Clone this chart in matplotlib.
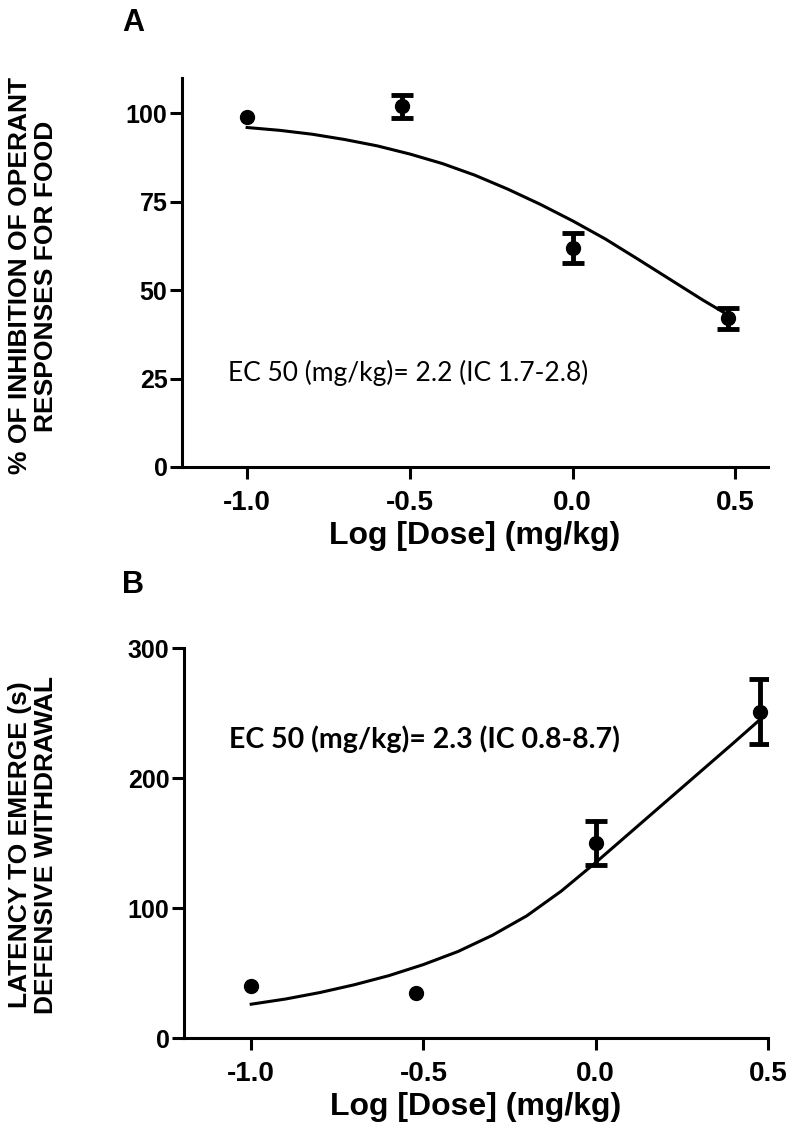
import matplotlib
matplotlib.use("Agg")
import matplotlib.pyplot as plt
import numpy as np

plt.rcParams['font.family'] = ['Liberation Sans', 'DejaVu Sans']
plt.rcParams['font.weight'] = 'bold'

# doses (log mg/kg)
log_dose = [-1.0, -0.523, 0.0, 0.477]

# panel A: % inhibition of operant responses
inhib_mean = [99, 102, 62, 42]
inhib_sem = [0, 3.3, 4.3, 3.0]
fitA_x = [-1.0, -0.9, -0.8, -0.7, -0.6, -0.5, -0.4, -0.3, -0.2, -0.1,
          0.0, 0.1, 0.2, 0.3, 0.4, 0.477]
fitA_y = [96, 95.2, 94.1, 92.6, 90.8, 88.5, 85.8, 82.5, 78.6, 74.3,
          69.6, 64.5, 58.8, 53, 47.2, 43]

# panel B: latency to emerge
lat_mean = [40, 35, 150, 251]
lat_sem = [0, 0, 17, 25]
fitB_x = [-1.0, -0.9, -0.8, -0.7, -0.6, -0.5, -0.4, -0.3, -0.2, -0.1,
          0.0, 0.1, 0.2, 0.3, 0.4, 0.477]
fitB_y = [26, 30, 35, 41, 48, 56.5, 66.5, 79, 94, 113,
          135, 158, 181, 204, 227, 245]

xticks = [-1.0, -0.5, 0.0, 0.5]
xtick_labels = ['-1.0', '-0.5', '0.0', '0.5']
yticksA = [0, 25, 50, 75, 100]
yticksB = [0, 100, 200, 300]

W, H = 793, 1135
fig = plt.figure(figsize=(W / 100, H / 100), dpi=100)


def style_axis(ax):
    for side in ['top', 'right']:
        ax.spines[side].set_visible(False)
    for side in ['left', 'bottom']:
        ax.spines[side].set_linewidth(2.2)
    ax.tick_params(axis='both', direction='out', length=8.5, width=2.2)
    ax.tick_params(axis='x', pad=8, labelsize=20)
    ax.tick_params(axis='y', pad=2, labelsize=18)
    ax.set_xticks(xticks)
    ax.set_xticklabels(xtick_labels)
    ax.set_xlabel('Log [Dose] (mg/kg)', fontsize=23, fontweight='bold',
                  labelpad=4)


def draw_points(ax, means, sems, fx, fy):
    ax.plot(fx, fy, color='black', lw=2.2, zorder=2)
    ax.plot(log_dose, means, 'o', color='black', ms=10, zorder=3)
    xs = [x for x, s in zip(log_dose, sems) if s > 0]
    ys = [m for m, s in zip(means, sems) if s > 0]
    es = [s for s in sems if s > 0]
    ax.errorbar(xs, ys, yerr=es, fmt='none', ecolor='black',
                elinewidth=3.5, capsize=8, capthick=3.5, zorder=3)


# panel A
axA = fig.add_axes([182 / W, 1 - 467 / H, (768 - 182) / W, (467 - 78) / H])
style_axis(axA)
draw_points(axA, inhib_mean, inhib_sem, fitA_x, fitA_y)
axA.set_xlim(-1.2, 0.6)
axA.set_ylim(0, 110)
axA.set_yticks(yticksA)
axA.text(-1.06, 26.6, 'EC 50 (mg/kg)= 2.2 (IC 1.7-2.8)', fontsize=19,
         fontweight='normal', family=['Lato', 'DejaVu Sans'],
         va='center', ha='left')

# panel B
axB = fig.add_axes([184 / W, 1 - 1038 / H, (768 - 184) / W, (1038 - 648) / H])
style_axis(axB)
draw_points(axB, lat_mean, lat_sem, fitB_x, fitB_y)
axB.set_xlim(-1.195, 0.5)
axB.set_ylim(0, 300)
axB.set_yticks(yticksB)
axB.text(-1.065, 230, 'EC 50 (mg/kg)= 2.3 (IC 0.8-8.7)', fontsize=20.5,
         fontweight='bold', family=['Lato', 'DejaVu Sans'],
         va='center', ha='left')

# y labels and panel letters
fig.text(33 / W, 1 - 276 / H, '% OF INHIBITION OF OPERANT\nRESPONSES FOR FOOD',
         rotation=90, ha='center', va='center', fontsize=19,
         fontweight='bold', linespacing=1.1, multialignment='center')
fig.text(33 / W, 1 - 845 / H, 'LATENCY TO EMERGE (s)\nDEFENSIVE WITHDRAWAL',
         rotation=90, ha='center', va='center', fontsize=19,
         fontweight='bold', linespacing=1.1, multialignment='center')
fig.text(133 / W, 1 - 23 / H, 'A', ha='center', va='center', fontsize=22,
         fontweight='bold')
fig.text(133 / W, 1 - 585 / H, 'B', ha='center', va='center', fontsize=22,
         fontweight='bold')

fig.savefig('out.png', dpi=100)
